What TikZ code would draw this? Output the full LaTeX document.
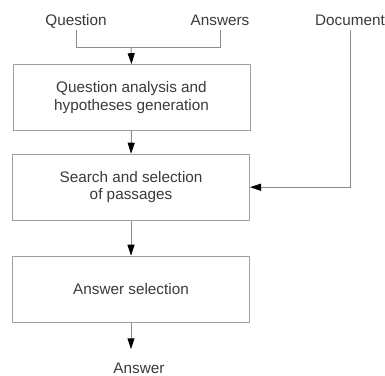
\documentclass[tikz,border=0pt]{standalone}
\usepackage{fontspec}
\setmainfont{Liberation Sans}
\usetikzlibrary{arrows.meta}
\definecolor{txt}{HTML}{3A3A3A}
\definecolor{boxline}{HTML}{A0A0A0}
\definecolor{connline}{HTML}{8C8C8C}
\begin{document}
\begin{tikzpicture}[x=1pt,y=-1pt,
  every node/.style={font=\fontsize{15.3}{17.5}\selectfont, text=txt},
  label/.style={inner sep=2pt, text height=11pt, text depth=3pt, anchor=base},
  procbox/.style={draw=boxline, line width=1pt, minimum width=237pt, minimum height=66pt, align=center, inner sep=0pt},
  conn/.style={draw=connline, line width=1pt, -{Triangle[width=7pt,length=11pt,color=black]}},
  plain/.style={draw=connline, line width=1pt}
]
\useasboundingbox (0,0) rectangle (385,375);
\node[label] (q) at (76,25) {Question};
\node[label] (a) at (220,25) {Answers};
\node[label] (d) at (350,25) {Document};
\node[procbox] (b1) at (131.5,97.7) {Question analysis and\\hypotheses generation};
\node[procbox] (b2) at (131,187.2) {Search and selection\\of passages};
\node[procbox] (b3) at (131,289.2) {Answer selection};
\node[label] (ans) at (139,373) {Answer};
\coordinate (j) at (131,47.5);
\draw[plain] (q.south) |- (j) -| (a.south);
\draw[conn] (j) -- (b1.north);
\draw[conn] (b1.south) -- (b2.north);
\draw[conn] (b2.south) -- (b3.north);
\draw[conn, shorten >=10.5pt] (b3.south) -- (b3.south |- ans.north);
\draw[conn] (d.south) |- (b2.east);
\end{tikzpicture}
\end{document}
